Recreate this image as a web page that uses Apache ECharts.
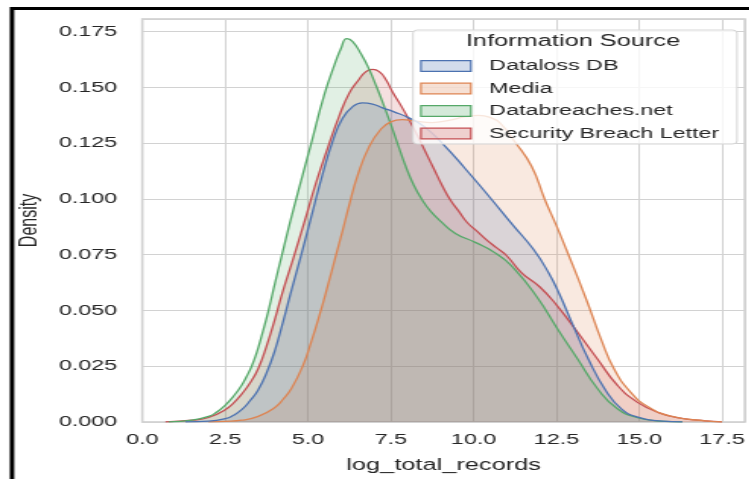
<!DOCTYPE html>
<html>
<head>
<meta charset="utf-8">
<title>log_total_records density by information source</title>
<script src="https://cdn.jsdelivr.net/npm/echarts@6/dist/echarts.min.js"></script>
<style>
  html, body { margin: 0; padding: 0; background: #fff; overflow: hidden; }
  #wrap { width: 750px; height: 479px; position: relative; overflow: hidden; }
  #chart { position: absolute; left: 0; top: 0; height: 479px; transform-origin: 0 0; }
</style>
</head>
<body>
<div id="wrap"><div id="chart"></div></div>
<script>
// Kernel density estimates of log_total_records, one curve per information source.
// Each entry is [log_total_records, density].
const datalossDB = [
  [1.3, 0.0001], [2.0, 0.0004], [2.5, 0.0015], [2.75, 0.003], [3.0, 0.0055], [3.25, 0.0095],
  [3.5, 0.0145], [3.75, 0.022], [4.0, 0.032], [4.25, 0.045], [4.5, 0.059], [4.78, 0.074],
  [5.1, 0.092], [5.44, 0.111], [5.75, 0.126], [6.04, 0.1360], [6.35, 0.1413], [6.64, 0.143],
  [6.95, 0.1425], [7.25, 0.1408], [7.6, 0.139], [8.05, 0.1363], [8.5, 0.1325], [9.05, 0.125],
  [9.75, 0.1135], [10.5, 0.1005], [11.2, 0.088], [11.8, 0.0775], [12.26, 0.067], [12.6, 0.057],
  [12.97, 0.0444], [13.47, 0.028], [13.97, 0.0146], [14.47, 0.0058], [14.96, 0.0022],
  [15.7, 0.0004], [16.3, 0.0001]
];
const media = [
  [2.0, 0.0001], [2.5, 0.0003], [3.0, 0.0008], [3.5, 0.0025], [4.0, 0.0065], [4.25, 0.0102],
  [4.5, 0.015], [4.84, 0.025], [5.1, 0.036], [5.37, 0.049], [5.6, 0.0612], [5.85, 0.075],
  [6.05, 0.086], [6.24, 0.097], [6.5, 0.1105], [6.85, 0.1235], [7.2, 0.1312], [7.5, 0.1345],
  [7.85, 0.1355], [8.25, 0.1348], [8.75, 0.1342], [9.25, 0.1352], [9.75, 0.1368], [10.15, 0.1374],
  [10.5, 0.1365], [10.8, 0.134], [11.25, 0.1255], [11.75, 0.1146], [12.15, 0.0997], [12.5, 0.088],
  [12.8, 0.0773], [13.4, 0.055], [13.85, 0.037], [14.25, 0.0235], [14.75, 0.0132], [15.25, 0.007],
  [15.95, 0.0026], [17.0, 0.0005], [17.5, 0.0001]
];
const databreachesNet = [
  [0.8, 0.0001], [1.5, 0.0008], [2.0, 0.0025], [2.25, 0.0045], [2.5, 0.0075], [2.75, 0.0115],
  [3.0, 0.0165], [3.15, 0.0205], [3.3, 0.025], [3.45, 0.031], [3.6, 0.0385], [3.8, 0.0495],
  [4.0, 0.062], [4.2, 0.074], [4.45, 0.089], [4.7, 0.103], [5.1, 0.125], [5.5, 0.147],
  [5.8, 0.16], [6.0, 0.1675], [6.17, 0.1718], [6.35, 0.1705], [6.6, 0.165], [6.85, 0.158],
  [7.05, 0.151], [7.25, 0.1435], [7.5, 0.1335], [7.7, 0.125], [7.95, 0.1146], [8.2, 0.106],
  [8.45, 0.0995], [8.7, 0.0945], [9.0, 0.09], [9.45, 0.0845], [10.05, 0.0805], [10.65, 0.0758],
  [11.25, 0.0683], [11.95, 0.0552], [12.5, 0.0425], [13.15, 0.028], [13.75, 0.0148],
  [14.35, 0.0058], [14.95, 0.0019], [15.6, 0.0004], [16.3, 0.0001]
];
const securityBreachLetter = [
  [0.7, 0.0001], [1.5, 0.0008], [2.0, 0.002], [2.5, 0.0055], [2.75, 0.0085], [3.0, 0.0125],
  [3.25, 0.0175], [3.5, 0.024], [3.75, 0.034], [4.0, 0.046], [4.25, 0.059], [4.55, 0.073],
  [4.9, 0.09], [5.24, 0.107], [5.6, 0.123], [5.94, 0.137], [6.25, 0.1475], [6.54, 0.1535],
  [6.75, 0.157], [6.95, 0.158], [7.15, 0.157], [7.35, 0.1535], [7.55, 0.148], [7.8, 0.142],
  [8.05, 0.1355], [8.3, 0.1285], [8.55, 0.121], [8.8, 0.1135], [9.05, 0.106], [9.3, 0.0995],
  [9.55, 0.0945], [9.8, 0.0895], [10.1, 0.0855], [10.4, 0.0815], [10.7, 0.078], [11.0, 0.0745],
  [11.45, 0.0668], [12.0, 0.0605], [12.5, 0.0525], [13.15, 0.04], [13.75, 0.028], [14.35, 0.0163],
  [14.95, 0.0088], [15.6, 0.0041], [16.2, 0.0019], [17.0, 0.0005], [17.5, 0.0001]
];

const sourceNames = ['Dataloss DB', 'Media', 'Databreaches.net', 'Security Breach Letter'];
const sourceData = [datalossDB, media, databreachesNet, securityBreachLetter];
const sourceColors = ['#4c72b0', '#dd8452', '#55a868', '#c44e52'];
const legendTitle = 'Information Source';
const xAxisTitle = 'log_total_records';
const yAxisTitle = 'Density';

// The figure is drawn narrow and stretched horizontally by CSS.
const SX = 1.52;
const hx = v => v / SX;            // page-pixel horizontal distance -> chart units
const FONT = 'Arial, "Liberation Sans", Helvetica, sans-serif';
const TEXT = '#262626';

function rgba(hex, a) {
  const n = parseInt(hex.slice(1), 16);
  return 'rgba(' + ((n >> 16) & 255) + ',' + ((n >> 8) & 255) + ',' + (n & 255) + ',' + a + ')';
}

const el = document.getElementById('chart');
el.style.width = (750 / SX) + 'px';
el.style.transform = 'scaleX(' + SX + ')';

const chart = echarts.init(el, null, { renderer: 'canvas' });

// Curves are layered last-to-first so the first source sits on top.
const drawOrder = [3, 2, 1, 0];
const series = drawOrder.map(i => ({
  name: sourceNames[i],
  type: 'line',
  data: sourceData[i],
  showSymbol: false,
  symbol: 'none',
  smooth: 0.5,
  silent: true,
  lineStyle: { color: sourceColors[i], width: 1.3 },
  itemStyle: { color: sourceColors[i] },
  areaStyle: { color: rgba(sourceColors[i], 0.25), origin: 'start' }
}));

const option = {
  animation: false,
  backgroundColor: '#ffffff',
  grid: {
    left: hx(142.3), right: hx(3), top: 19, bottom: 56.5,
    show: true, borderColor: '#cccccc', borderWidth: 1.5, backgroundColor: 'transparent'
  },
  xAxis: {
    type: 'value', min: 0, max: 18.19, interval: 2.5,
    name: xAxisTitle, nameLocation: 'middle', nameGap: 35,
    nameTextStyle: { fontSize: 16.7, color: TEXT, fontFamily: FONT },
    axisLine: { show: false }, axisTick: { show: false },
    axisLabel: {
      margin: 10, fontSize: 15.4, color: TEXT, fontFamily: FONT,
      showMaxLabel: false, formatter: v => v.toFixed(1)
    },
    splitLine: { lineStyle: { color: '#d2d2d2', width: 1 } }
  },
  yAxis: {
    type: 'value', min: 0, max: 0.1806, interval: 0.025,
    name: yAxisTitle, nameLocation: 'middle', nameGap: 64,
    nameTextStyle: { fontSize: 16, color: TEXT, fontFamily: FONT },
    axisLine: { show: false }, axisTick: { show: false },
    axisLabel: {
      margin: hx(25), fontSize: 15.4, color: TEXT, fontFamily: FONT,
      showMaxLabel: false, formatter: v => v.toFixed(3)
    },
    splitLine: { lineStyle: { color: '#d2d2d2', width: 1 } }
  },
  legend: {
    orient: 'vertical',
    left: hx(420), top: 57,
    padding: 0,
    itemWidth: hx(50), itemHeight: 10.7, itemGap: 4.5,
    icon: 'rect',
    selectedMode: false,
    z: 6,
    textStyle: {
      fontSize: 15.3, color: TEXT, fontFamily: FONT, lineHeight: 18,
      padding: [0, 0, 0, hx(488.3) - hx(470) - 5]
    },
    data: sourceNames.map((name, i) => ({
      name: name,
      icon: 'rect',
      itemStyle: { color: rgba(sourceColors[i], 0.25), borderColor: sourceColors[i], borderWidth: 1.2 }
    }))
  },
  graphic: [
    {
      type: 'rect', z: 5, silent: true,
      shape: { x: hx(413), y: 30, width: hx(737 - 413), height: 114, r: 3 },
      style: { fill: 'rgba(255,255,255,0.8)', stroke: '#d6d6d6', lineWidth: 1 }
    },
    {
      type: 'text', z: 7, silent: true,
      x: hx(573), y: 41,
      style: {
        text: legendTitle, fontSize: 16.7, fontFamily: FONT, fill: TEXT,
        textAlign: 'center', align: 'center', textVerticalAlign: 'middle', verticalAlign: 'middle'
      }
    },
    {
      type: 'rect', z: 20, silent: true,
      shape: { x: 7.9, y: 8.5, width: 2000, height: 2000 },
      style: { fill: 'none', stroke: '#000000', lineWidth: 3 }
    }
  ],
  series: series
};

chart.setOption(option);
</script>
</body>
</html>
